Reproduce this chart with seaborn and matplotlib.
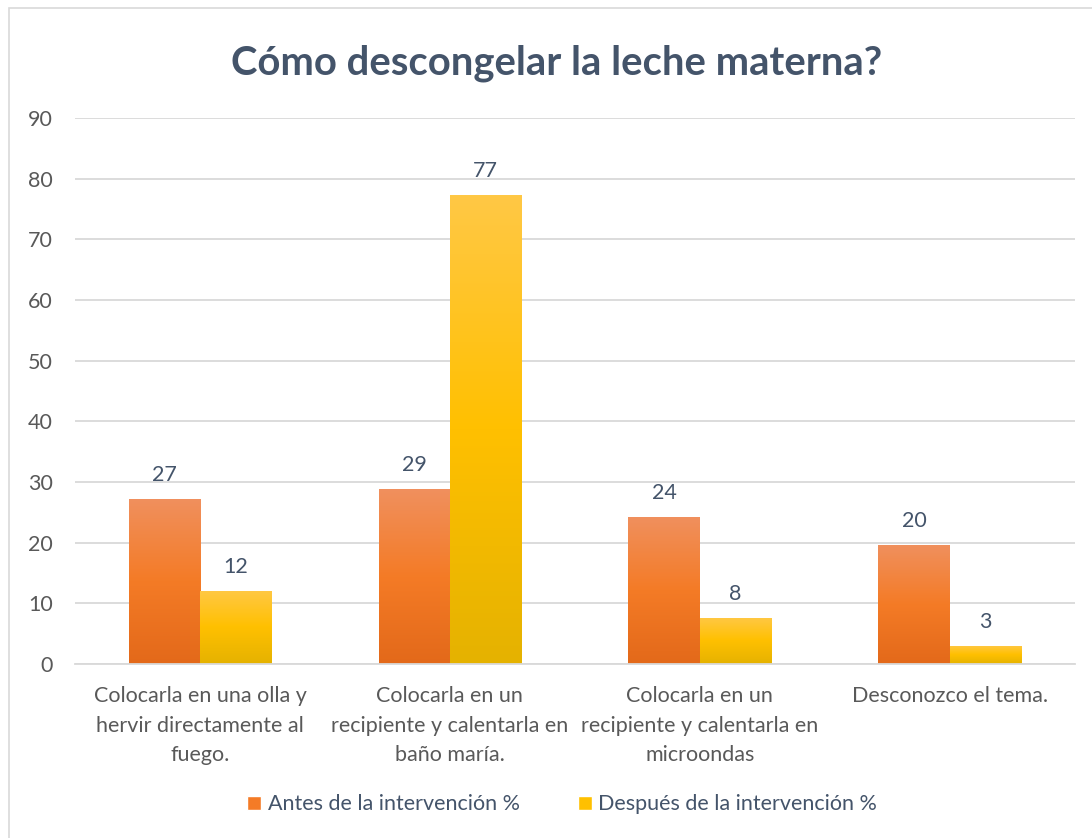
import numpy as np
import pandas as pd
import matplotlib
matplotlib.use("Agg")
import matplotlib.pyplot as plt
import seaborn as sns
from matplotlib.colors import LinearSegmentedColormap
from matplotlib.patches import Rectangle, Patch

categories = [
    "Colocarla en una olla y\nhervir directamente al\nfuego.",
    "Colocarla en un\nrecipiente y calentarla en\nbaño maría.",
    "Colocarla en un\nrecipiente y calentarla en\nmicroondas",
    "Desconozco el tema.",
]
series = ["Antes de la intervención %", "Después de la intervención %"]
antes = [27.2, 28.8, 24.3, 19.7]
despues = [12.1, 77.3, 7.6, 3.0]

df = pd.DataFrame({
    "Categoria": categories * 2,
    "Serie": [series[0]] * 4 + [series[1]] * 4,
    "Valor": antes + despues,
})

sns.set_style("white")
plt.rcParams["font.family"] = ["Lato", "DejaVu Sans"]

text_col = "#44546A"
tick_col = "#595959"
grad = {
    series[0]: ["#F0905E", "#F47B26", "#E3691A"],
    series[1]: ["#FFC845", "#FFC000", "#E5B200"],
}
base_col = {series[0]: "#F47B26", series[1]: "#FFC000"}

fig = plt.figure(figsize=(10.92, 8.38), dpi=100)
ax = fig.add_axes([0.0687, 0.2076, 0.9153, 0.6516])

sns.barplot(data=df, x="Categoria", y="Valor", hue="Serie",
            palette=base_col, width=0.57, saturation=1, ax=ax,
            legend=False, errorbar=None)

ax.set_ylim(0, 90)
ax.set_yticks(range(0, 91, 10))
ax.yaxis.grid(True, color="#D9D9D9", linewidth=1.3)
ax.set_axisbelow(True)
for s in ["top", "right", "left"]:
    ax.spines[s].set_visible(False)
ax.spines["bottom"].set_color("#D9D9D9")
ax.spines["bottom"].set_linewidth(1.3)
ax.set_xlabel("")
ax.set_ylabel("")
ax.tick_params(axis="both", length=0, colors=tick_col, labelsize=15.5)
ax.tick_params(axis="x", pad=16)
ax.tick_params(axis="y", pad=16)
for t in ax.get_xticklabels():
    t.set_linespacing(1.58)

# gradient fill + value labels
for cont, name in zip(ax.containers, series):
    cmap = LinearSegmentedColormap.from_list(name, grad[name][::-1])
    for bar in cont:
        x0, w, h = bar.get_x(), bar.get_width(), bar.get_height()
        img = ax.imshow(np.linspace(0, 1, 256).reshape(-1, 1), cmap=cmap,
                        extent=[x0, x0 + w, 0, h], origin="lower",
                        aspect="auto", zorder=bar.get_zorder())
        img.set_clip_path(bar)
        bar.set_alpha(0)
        ax.text(x0 + w / 2, h + 2.3, f"{h:.0f}", ha="center", va="bottom",
                fontsize=15.5, color=text_col)
ax.set_xlim(-0.5, 3.5)
ax.set_ylim(0, 90)

fig.text(0.5096, 0.924, "Cómo descongelar la leche materna?", ha="center",
         va="center", fontsize=28.8, fontweight="bold", color=text_col)

handles = [Patch(facecolor=base_col[s], label=s) for s in series]
fig.legend(handles=handles, loc="center", bbox_to_anchor=(0.515, 0.04),
           ncol=2, frameon=False, fontsize=15.5, handlelength=0.65,
           handleheight=0.65, handletextpad=0.3, columnspacing=2.7,
           labelcolor=text_col)

fig.patches.append(Rectangle((0.008, -0.01), 1.1, 1.0, transform=fig.transFigure,
                             fill=False, edgecolor="#D9D9D9", linewidth=1.2))

fig.savefig("out.png", dpi=100)
